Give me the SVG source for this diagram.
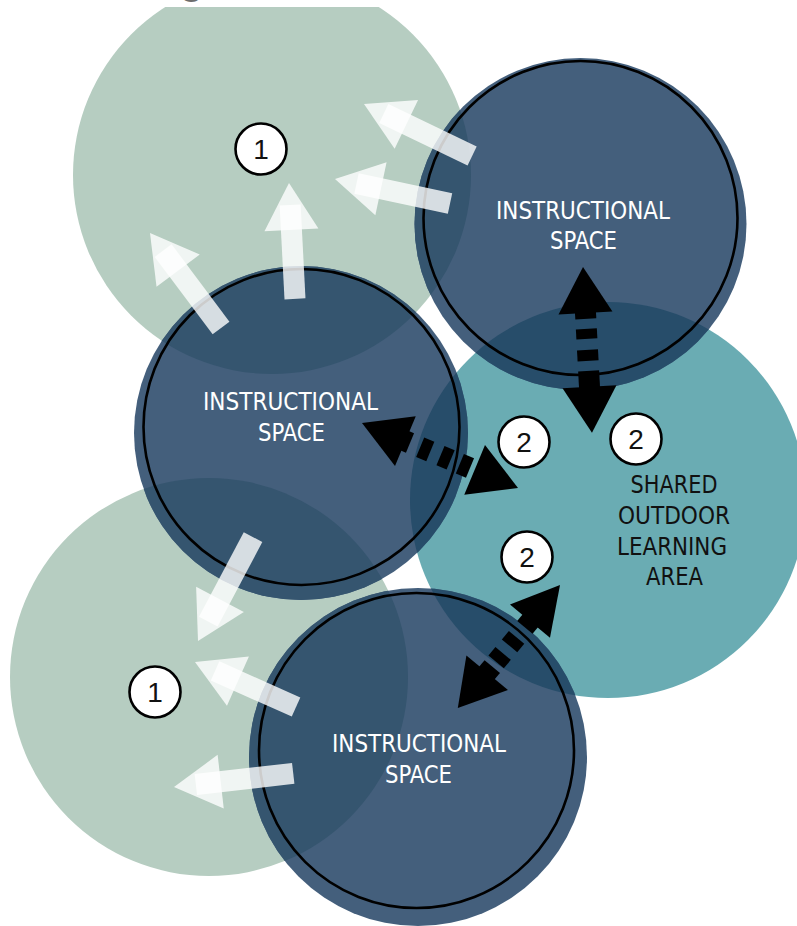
<svg xmlns="http://www.w3.org/2000/svg" width="797" height="926" viewBox="0 0 797 926">
<style>
.green{fill:#b6cdc1}
.teal{fill:#6aacb3}
.disc{fill:#445f7c}
.ovG{fill:#35556f}
.ovT{fill:#274d6a}
.ring{fill:none;stroke:#000;stroke-width:2.6}
.lbl{font-family:"Liberation Sans Narrow","DejaVu Sans Condensed","Liberation Sans",Arial,sans-serif;font-size:25px;text-anchor:middle}
.wt{fill:#ffffff}
.bk{fill:#111111}
.warrow *{fill:#ffffff;fill-opacity:0.8}
.barrow *{fill:#000000}
.badge circle{fill:#ffffff;stroke:#000;stroke-width:2.6}
.badge text{font-family:"Liberation Sans",Arial,sans-serif;font-size:28px;text-anchor:middle;fill:#111}
</style>
<defs>
<clipPath id="topCut"><rect x="0" y="7" width="797" height="919"/></clipPath>
<clipPath id="clipTR"><circle cx="580.5" cy="224" r="166"/></clipPath>
<clipPath id="clipMID"><circle cx="301" cy="433" r="167"/></clipPath>
<clipPath id="clipBOT"><circle cx="418" cy="757" r="169"/></clipPath>
</defs>
<rect width="797" height="926" fill="#ffffff"/>
<text x="180" y="-6" font-family="Liberation Sans,Arial,sans-serif" font-size="38" font-weight="bold" fill="#6d6d6d">g</text>

<g id="zone-1-top">
<circle class="green" cx="272" cy="175" r="199" clip-path="url(#topCut)"/>
</g>
<g id="zone-1-bottom">
<circle class="green" cx="209" cy="677" r="199"/>
</g>
<g id="zone-shared-outdoor">
<circle class="teal" cx="608" cy="500" r="198"/>
<text class="lbl bk" x="674" y="493" textLength="87" lengthAdjust="spacingAndGlyphs">SHARED</text>
<text class="lbl bk" x="674" y="524" textLength="112" lengthAdjust="spacingAndGlyphs">OUTDOOR</text>
<text class="lbl bk" x="672" y="555" textLength="110" lengthAdjust="spacingAndGlyphs">LEARNING</text>
<text class="lbl bk" x="674.5" y="585" textLength="57" lengthAdjust="spacingAndGlyphs">AREA</text>
</g>

<g id="node-instr-top">
<circle class="disc" cx="580.5" cy="224" r="166"/>
<g clip-path="url(#clipTR)">
<circle class="ovG" cx="272" cy="175" r="199"/>
<circle class="ovT" cx="608" cy="500" r="198"/>
</g>
<circle class="ring" cx="580.5" cy="218" r="157"/>
<text class="lbl wt" x="583" y="219" textLength="174" lengthAdjust="spacingAndGlyphs">INSTRUCTIONAL</text>
<text class="lbl wt" x="583.5" y="249" textLength="67" lengthAdjust="spacingAndGlyphs">SPACE</text>
</g>

<g id="node-instr-mid">
<circle class="disc" cx="301" cy="433" r="167"/>
<g clip-path="url(#clipMID)">
<circle class="ovG" cx="272" cy="175" r="199"/>
<circle class="ovG" cx="209" cy="677" r="199"/>
<circle class="ovT" cx="608" cy="500" r="198"/>
</g>
<circle class="ring" cx="301.5" cy="427" r="158"/>
<text class="lbl wt" x="290.5" y="410" textLength="175" lengthAdjust="spacingAndGlyphs">INSTRUCTIONAL</text>
<text class="lbl wt" x="291.5" y="441" textLength="67" lengthAdjust="spacingAndGlyphs">SPACE</text>
</g>

<g id="node-instr-bot">
<circle class="disc" cx="418" cy="757" r="169"/>
<g clip-path="url(#clipBOT)">
<circle class="ovG" cx="209" cy="677" r="199"/>
<circle class="ovT" cx="608" cy="500" r="198"/>
</g>
<circle class="ring" cx="416.5" cy="750.5" r="157.5"/>
<text class="lbl wt" x="419" y="752" textLength="174" lengthAdjust="spacingAndGlyphs">INSTRUCTIONAL</text>
<text class="lbl wt" x="418.5" y="783" textLength="67" lengthAdjust="spacingAndGlyphs">SPACE</text>
</g>

<g id="connectors">
<g class="warrow" transform="translate(289,183) rotate(-92.96)"><rect x="-116" y="-10.5" width="94" height="21"/><polygon points="0,0 -47,-27 -47,27"/></g>
<g class="warrow" transform="translate(364,104) rotate(-154.3)"><rect x="-120" y="-10.5" width="98" height="21"/><polygon points="0,0 -47,-27 -47,27"/></g>
<g class="warrow" transform="translate(335,179) rotate(-168)"><rect x="-117.6" y="-10.5" width="95.6" height="21"/><polygon points="0,0 -47,-27 -47,27"/></g>
<g class="warrow" transform="translate(150,233) rotate(-126.8)"><rect x="-118.6" y="-10.5" width="96.6" height="21"/><polygon points="0,0 -47,-27 -47,27"/></g>
<g class="warrow" transform="translate(198,641) rotate(117.9)"><rect x="-117.6" y="-10.5" width="95.6" height="21"/><polygon points="0,0 -47,-27 -47,27"/></g>
<g class="warrow" transform="translate(195,662) rotate(-156)"><rect x="-110.6" y="-10.5" width="88.6" height="21"/><polygon points="0,0 -47,-27 -47,27"/></g>
<g class="warrow" transform="translate(174,787) rotate(173.5)"><rect x="-120" y="-10.5" width="98" height="21"/><polygon points="0,0 -47,-27 -47,27"/></g>

<g class="barrow" transform="translate(583,267) rotate(86.9)">
<polygon points="0,0 46,-27 46,27"/><polygon points="166,0 120,-27 120,27"/>
<rect x="44" y="-10.5" width="8" height="21"/><rect x="62" y="-10.5" width="10" height="21"/><rect x="83" y="-10.5" width="11" height="21"/><rect x="104" y="-10.5" width="17" height="21"/>
</g>
<g class="barrow" transform="translate(362,423) rotate(22.6)">
<polygon points="0,0 47,-27 47,27"/><polygon points="169,0 122,-27 122,27"/>
<rect x="45" y="-10.5" width="7" height="21"/><rect x="63" y="-10.5" width="11" height="21"/><rect x="85" y="-10.5" width="11" height="21"/><rect x="106" y="-10.5" width="11" height="21"/>
</g>
<g class="barrow" transform="translate(560,585) rotate(129.7)">
<polygon points="0,0 47,-26 47,26"/><polygon points="160,0 114,-27 114,27"/>
<rect x="45" y="-10" width="10" height="20"/><rect x="68" y="-10" width="11" height="20"/><rect x="89" y="-10" width="11" height="20"/><rect x="106" y="-10" width="9" height="20"/>
</g>
</g>

<g id="badges">
<g class="badge" id="badge-1-top"><circle cx="261" cy="149" r="25.5"/><text x="261" y="159">1</text></g>
<g class="badge" id="badge-1-bottom"><circle cx="155" cy="692" r="25.5"/><text x="155" y="702">1</text></g>
<g class="badge" id="badge-2-a"><circle cx="524" cy="442" r="25.5"/><text x="524" y="452">2</text></g>
<g class="badge" id="badge-2-b"><circle cx="636" cy="439" r="25.5"/><text x="636" y="449">2</text></g>
<g class="badge" id="badge-2-c"><circle cx="527" cy="557" r="25.5"/><text x="527" y="567">2</text></g>
</g>
</svg>
